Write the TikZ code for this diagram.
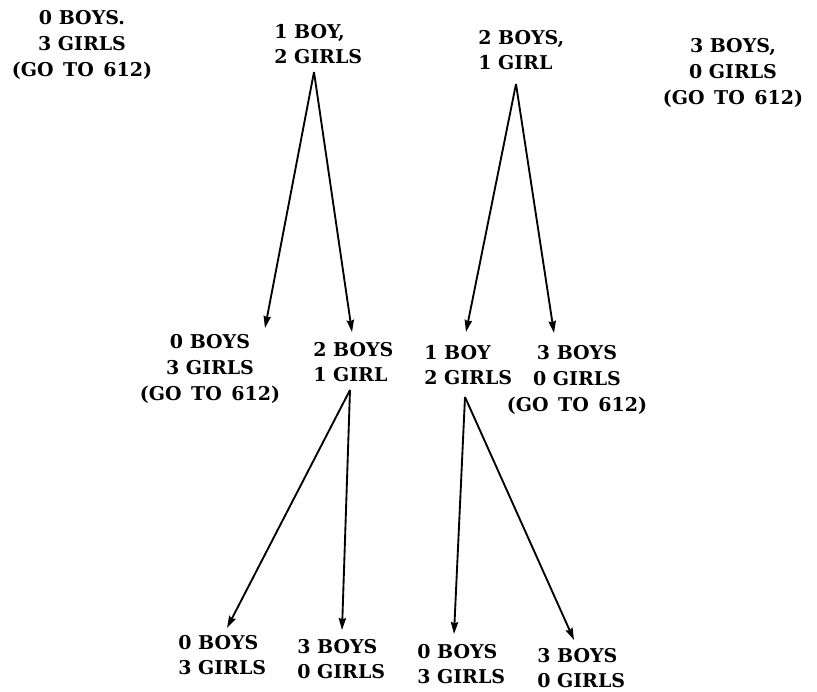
\documentclass[tikz,border=0pt]{standalone}
\usepackage{fontspec}
\setmainfont{DejaVu Serif}
\usetikzlibrary{arrows.meta}
\begin{document}
\begin{tikzpicture}[x=0.75pt,y=-0.75pt,
  lbl/.style={inner sep=0pt,font=\fontsize{14.25pt}{19.2pt}\selectfont\bfseries},
  lblc/.style={lbl,align=center,anchor=center},
  lbll/.style={lbl,align=left,anchor=west},
  arr/.style={line width=1.4pt,-{Stealth[length=9pt,width=5.5pt,inset=1pt]}}]
\useasboundingbox (0,0) rectangle (817,692);
\newcommand{\goto}{(GO\hspace{0.5em}TO\hspace{0.5em}612)}
% top row
\node[lblc] (A) at (82,45) {0 BOYS.\\3 GIRLS\\\goto};
\node[lbll] (B) at (274,44) {1 BOY,\\2 GIRLS};
\node[lbll] (C) at (478,50) {2 BOYS,\\1 GIRL};
\node[lblc] (D) at (733,73) {3 BOYS,\\0 GIRLS\\\goto};
% middle row
\node[lblc] (E) at (210,369) {0 BOYS\\3 GIRLS\\\goto};
\node[lbll] (F) at (313,362) {2 BOYS\\1 GIRL};
\node[lbll] (G) at (424,365) {1 BOY\\2 GIRLS};
\node[lblc] (H) at (577,380) {3 BOYS\\0 GIRLS\\\goto};
% bottom row
\node[lbll] (I) at (178,655) {0 BOYS\\3 GIRLS};
\node[lbll] (J) at (297,659) {3 BOYS\\0 GIRLS};
\node[lbll] (K) at (417,664) {0 BOYS\\3 GIRLS};
\node[lbll] (L) at (537,668) {3 BOYS\\0 GIRLS};
% connector ends
\coordinate (aB) at (314,72);
\coordinate (aC) at (516,84);
\coordinate (aF) at (350,390);
\coordinate (aG) at (465,397);
\coordinate (tE) at (265,328);
\coordinate (tF) at (352,332);
\coordinate (tG) at (466,332);
\coordinate (tH) at (554,333);
\coordinate (tI) at (227,628);
\coordinate (tJ) at (342,630);
\coordinate (tK) at (454,634);
\coordinate (tL) at (574,640);
\draw[arr] (aB) -- (tE);
\draw[arr] (aB) -- (tF);
\draw[arr] (aC) -- (tG);
\draw[arr] (aC) -- (tH);
\draw[arr] (aF) -- (tI);
\draw[arr] (aF) -- (tJ);
\draw[arr] (aG) -- (tK);
\draw[arr] (aG) -- (tL);
\end{tikzpicture}
\end{document}
